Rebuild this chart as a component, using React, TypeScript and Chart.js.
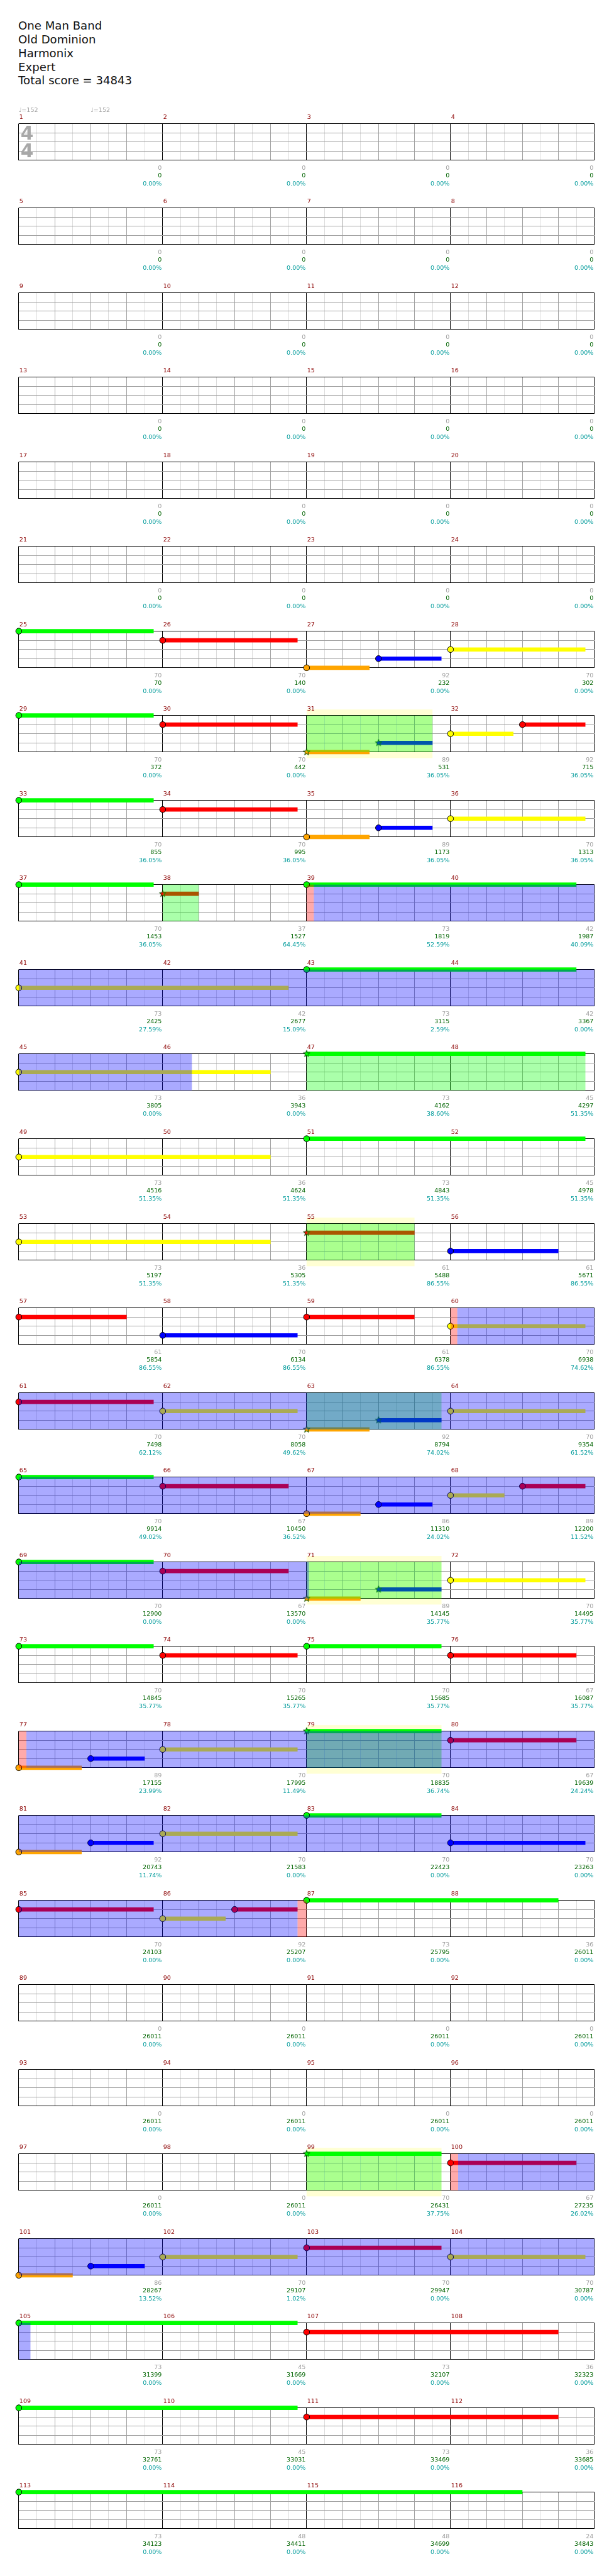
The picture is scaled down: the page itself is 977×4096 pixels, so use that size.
import React, { useEffect, useRef } from "react";
import { Chart, registerables } from "chart.js";

Chart.register(...registerables);

// ---------- scale of the whole drawing (reference 1024 wide -> 977) ----------
const S = 977 / 1024;
const FONT = '"DejaVu Sans", sans-serif';

// ---------- header ----------
const TITLE_LINES = ["One Man Band", "Old Dominion", "Harmonix", "Expert", "Total score = 34843"];

// ---------- structure ----------
const ROW_COUNT = 29;
const MEASURES_PER_ROW = 4;
const STEPS_PER_MEASURE = 16; // sixteenth notes
const LANE_COLORS = ["#00ff00", "#ff0000", "#ffff00", "#0000ff", "#ffa500"]; // green, red, yellow, blue, orange

// tempo marks: [measure, sixteenth, bpm]
const TEMPOS = [
  [1, 0, 152],
  [1, 8, 152],
];
const TIME_SIGNATURE = ["4", "4"];

// notes: [measure, sixteenth offset, lane, sustain length (sixteenths), star (1 = overdrive note)]
const NOTES = [
  [25, 0, 0, 15, 0], [26, 0, 1, 15, 0], [27, 0, 4, 7, 0], [27, 8, 3, 7, 0], [28, 0, 2, 15, 0],
  [29, 0, 0, 15, 0], [30, 0, 1, 15, 0], [31, 0, 4, 7, 1], [31, 8, 3, 6, 1], [32, 0, 2, 7, 0], [32, 8, 1, 7, 0],
  [33, 0, 0, 15, 0], [34, 0, 1, 15, 0], [35, 0, 4, 7, 0], [35, 8, 3, 6, 0], [36, 0, 2, 15, 0],
  [37, 0, 0, 15, 0], [38, 0, 1, 4, 1], [39, 0, 0, 30, 0],
  [41, 0, 2, 30, 0], [43, 0, 0, 30, 0],
  [45, 0, 2, 28, 0], [47, 0, 0, 31, 1],
  [49, 0, 2, 28, 0], [51, 0, 0, 31, 0],
  [53, 0, 2, 28, 0], [55, 0, 1, 12, 1], [56, 0, 3, 12, 0],
  [57, 0, 1, 12, 0], [58, 0, 3, 15, 0], [59, 0, 1, 12, 0], [60, 0, 2, 15, 0],
  [61, 0, 1, 15, 0], [62, 0, 2, 15, 0], [63, 0, 4, 7, 1], [63, 8, 3, 7, 1], [64, 0, 2, 15, 0],
  [65, 0, 0, 15, 0], [66, 0, 1, 14, 0], [67, 0, 4, 6, 0], [67, 8, 3, 6, 0], [68, 0, 2, 6, 0], [68, 8, 1, 7, 0],
  [69, 0, 0, 15, 0], [70, 0, 1, 14, 0], [71, 0, 4, 6, 1], [71, 8, 3, 7, 1], [72, 0, 2, 15, 0],
  [73, 0, 0, 15, 0], [74, 0, 1, 15, 0], [75, 0, 0, 15, 0], [76, 0, 1, 14, 0],
  [77, 0, 4, 7, 0], [77, 8, 3, 6, 0], [78, 0, 2, 15, 0], [79, 0, 0, 15, 1], [80, 0, 1, 14, 0],
  [81, 0, 4, 7, 0], [81, 8, 3, 7, 0], [82, 0, 2, 15, 0], [83, 0, 0, 15, 0], [84, 0, 3, 15, 0],
  [85, 0, 1, 15, 0], [86, 0, 2, 7, 0], [86, 8, 1, 7, 0], [87, 0, 0, 28, 0],
  [99, 0, 0, 15, 1], [100, 0, 1, 14, 0],
  [101, 0, 4, 6, 0], [101, 8, 3, 6, 0], [102, 0, 2, 15, 0], [103, 0, 1, 15, 0], [104, 0, 2, 15, 0],
  [105, 0, 0, 31, 0], [107, 0, 1, 28, 0],
  [109, 0, 0, 31, 0], [111, 0, 1, 28, 0],
  [113, 0, 0, 56, 0],
];

// overdrive phrases: [startMeasure, startSixteenth, endMeasure, endSixteenth, showYellowBox]
const OD_PHRASES = [
  [31, 0, 31, 14, 1],
  [38, 0, 38, 4, 0],
  [47, 0, 48, 15, 0],
  [55, 0, 55, 12, 1],
  [63, 0, 63, 15, 0],
  [71, 0, 71, 15, 1],
  [79, 0, 79, 15, 1],
  [99, 0, 99, 15, 1],
];
// overdrive activations (blue): [startMeasure, startSixteenth, endMeasure, endSixteenth]
const ACTIVATIONS = [
  [39, 0.8, 46, 3.25],
  [60, 0.75, 71, 0.25],
  [77, 0.85, 86, 15],
  [100, 0.85, 105, 1.3],
];
// squeeze windows (red)
const SQUEEZES = [
  [39, 0, 39, 0.8],
  [60, 0, 60, 0.75],
  [77, 0, 77, 0.85],
  [86, 15, 87, 0],
  [100, 0, 100, 0.85],
];

// per-measure numbers (measures 1..116)
const MEASURE_SCORES = [
  0, 0, 0, 0, 0, 0, 0, 0, 0, 0, 0, 0, 0, 0, 0, 0, 0, 0, 0, 0, 0, 0, 0, 0,
  70, 70, 92, 70,
  70, 70, 89, 92,
  70, 70, 89, 70,
  70, 37, 73, 42,
  73, 42, 73, 42,
  73, 36, 73, 45,
  73, 36, 73, 45,
  73, 36, 61, 61,
  61, 70, 61, 70,
  70, 70, 92, 70,
  70, 67, 86, 89,
  70, 67, 89, 70,
  70, 70, 70, 67,
  89, 70, 70, 67,
  92, 70, 70, 70,
  70, 92, 73, 36,
  0, 0, 0, 0,
  0, 0, 0, 0,
  0, 0, 70, 67,
  86, 70, 70, 70,
  73, 45, 73, 36,
  73, 45, 73, 36,
  73, 48, 48, 24,
];
const CUMULATIVE_SCORES = [
  0, 0, 0, 0, 0, 0, 0, 0, 0, 0, 0, 0, 0, 0, 0, 0, 0, 0, 0, 0, 0, 0, 0, 0,
  70, 140, 232, 302,
  372, 442, 531, 715,
  855, 995, 1173, 1313,
  1453, 1527, 1819, 1987,
  2425, 2677, 3115, 3367,
  3805, 3943, 4162, 4297,
  4516, 4624, 4843, 4978,
  5197, 5305, 5488, 5671,
  5854, 6134, 6378, 6938,
  7498, 8058, 8794, 9354,
  9914, 10450, 11310, 12200,
  12900, 13570, 14145, 14495,
  14845, 15265, 15685, 16087,
  17155, 17995, 18835, 19639,
  20743, 21583, 22423, 23263,
  24103, 25207, 25795, 26011,
  26011, 26011, 26011, 26011,
  26011, 26011, 26011, 26011,
  26011, 26011, 26431, 27235,
  28267, 29107, 29947, 30787,
  31399, 31669, 32107, 32323,
  32761, 33031, 33469, 33685,
  34123, 34411, 34699, 34843,
];
const METER_PERCENT = [
  0, 0, 0, 0, 0, 0, 0, 0, 0, 0, 0, 0, 0, 0, 0, 0, 0, 0, 0, 0, 0, 0, 0, 0,
  0, 0, 0, 0,
  0, 0, 36.05, 36.05,
  36.05, 36.05, 36.05, 36.05,
  36.05, 64.45, 52.59, 40.09,
  27.59, 15.09, 2.59, 0,
  0, 0, 38.6, 51.35,
  51.35, 51.35, 51.35, 51.35,
  51.35, 51.35, 86.55, 86.55,
  86.55, 86.55, 86.55, 74.62,
  62.12, 49.62, 74.02, 61.52,
  49.02, 36.52, 24.02, 11.52,
  0, 0, 35.77, 35.77,
  35.77, 35.77, 35.77, 35.77,
  23.99, 11.49, 36.74, 24.24,
  11.74, 0, 0, 0,
  0, 0, 0, 0,
  0, 0, 0, 0,
  0, 0, 0, 0,
  0, 0, 37.75, 26.02,
  13.52, 1.02, 0, 0,
  0, 0, 0, 0,
  0, 0, 0, 0,
  0, 0, 0, 0,
];

// ---------- layout (reference pixels, scaled by S) ----------
const FIRST_STAFF_TOP = 205.7;
const ROW_PITCH = 141;
const STAFF_H = 61;
const STAFF_LEFT = 31.3;
const STAFF_RIGHT = 991.3;
const ABOVE = 30;

const pos = (m: number, s: number) => (m - 1) * STEPS_PER_MEASURE + s;

const starCache: Record<string, HTMLCanvasElement> = {};
function starImage(color: string) {
  if (starCache[color]) return starCache[color];
  const size = Math.ceil(14 * S);
  const c = document.createElement("canvas");
  c.width = size;
  c.height = size;
  const g = c.getContext("2d")!;
  const cx = size / 2, cy = size / 2, R = 5.8 * S, r = 2.4 * S;
  g.beginPath();
  for (let i = 0; i < 10; i++) {
    const a = -Math.PI / 2 + (i * Math.PI) / 5;
    const rr = i % 2 === 0 ? R : r;
    g.lineTo(cx + rr * Math.cos(a), cy + rr * Math.sin(a));
  }
  g.closePath();
  g.fillStyle = color;
  g.fill();
  g.strokeStyle = "#004d00";
  g.lineWidth = 1;
  g.stroke();
  starCache[color] = c;
  return c;
}

function spanPx(chart: any, a: number, b: number) {
  const xs = chart.scales.x;
  const lo = Math.max(a, xs.min);
  const hi = Math.min(b, xs.max);
  if (hi <= lo) return null;
  return [xs.getPixelForValue(lo), xs.getPixelForValue(hi)];
}

const rowPlugin = {
  id: "rowDecor",
  beforeDraw(chart: any) {
    const ctx = chart.ctx;
    const ys = chart.scales.y;
    const ext = 10 / 15.25;
    ctx.save();
    ctx.fillStyle = "rgba(255,255,0,0.17)";
    OD_PHRASES.forEach((p) => {
      if (!p[4]) return;
      const sp = spanPx(chart, pos(p[0], p[1]), pos(p[2], p[3]));
      if (!sp) return;
      const t = ys.getPixelForValue(-ext);
      const b = ys.getPixelForValue(4 + ext);
      ctx.fillRect(sp[0], t, sp[1] - sp[0], b - t);
    });
    ctx.restore();
  },
  afterDatasetsDraw(chart: any) {
    const ctx = chart.ctx;
    const { top, bottom } = chart.chartArea;
    ctx.save();
    const paint = (list: number[][], color: string) => {
      ctx.fillStyle = color;
      list.forEach((p) => {
        const sp = spanPx(chart, pos(p[0], p[1]), pos(p[2], p[3]));
        if (sp) ctx.fillRect(sp[0], top, sp[1] - sp[0], bottom - top);
      });
    };
    paint(OD_PHRASES, "rgba(0,255,0,0.333)");
    paint(ACTIVATIONS, "rgba(0,0,255,0.333)");
    paint(SQUEEZES, "rgba(255,0,0,0.333)");
    ctx.restore();
  },
  afterDraw(chart: any, _args: any, opts: any) {
    const row = opts.row as number;
    const ctx = chart.ctx;
    const xs = chart.scales.x;
    const { top, bottom, left } = chart.chartArea;
    ctx.save();
    ctx.font = `${10 * S}px ${FONT}`;
    ctx.textBaseline = "alphabetic";
    for (let k = 0; k < MEASURES_PER_ROW; k++) {
      const m = row * MEASURES_PER_ROW + k + 1;
      const xStart = xs.getPixelForValue(pos(m, 0));
      const xEnd = xs.getPixelForValue(pos(m + 1, 0));
      ctx.textAlign = "left";
      ctx.fillStyle = "#8b0000";
      ctx.fillText(String(m), xStart + 1 * S, top - 8 * S);
      ctx.textAlign = "right";
      const xr = xEnd - 1.5 * S;
      ctx.fillStyle = "#a0a0a0";
      ctx.fillText(String(MEASURE_SCORES[m - 1]), xr, bottom + 16 * S);
      ctx.fillStyle = "#006400";
      ctx.fillText(String(CUMULATIVE_SCORES[m - 1]), xr, bottom + 28.7 * S);
      ctx.fillStyle = "#009b9b";
      ctx.fillText(METER_PERCENT[m - 1].toFixed(2) + "%", xr, bottom + 41.7 * S);
    }
    if (row === 0) {
      ctx.textAlign = "left";
      ctx.fillStyle = "#a0a0a0";
      TEMPOS.forEach((t) => {
        ctx.fillText("\u2669=" + t[2], xs.getPixelForValue(pos(t[0], t[1])), top - 20 * S);
      });
      ctx.font = `bold ${31 * S}px ${FONT}`;
      ctx.fillStyle = "#a8a8a8";
      ctx.fillText(TIME_SIGNATURE[0], left + 3 * S, top + 26.5 * S);
      ctx.fillText(TIME_SIGNATURE[1], left + 3 * S, top + 56 * S);
    }
    ctx.restore();
  },
};

function StaffRow({ row }: { row: number }) {
  const ref = useRef<HTMLCanvasElement>(null);
  const canvasTop = Math.round((FIRST_STAFF_TOP + row * ROW_PITCH - ABOVE) * S);
  const canvasH = Math.round(ROW_PITCH * S);
  useEffect(() => {
    const x0 = row * MEASURES_PER_ROW * STEPS_PER_MEASURE;
    const x1 = x0 + MEASURES_PER_ROW * STEPS_PER_MEASURE;
    const rowNotes = NOTES.filter((n) => {
      const p = pos(n[0], n[1]);
      return p >= x0 && p < x1;
    });
    const datasets = rowNotes.map((n) => {
      const start = pos(n[0], n[1]);
      const color = LANE_COLORS[n[2]];
      return {
        type: "line" as const,
        data: [
          { x: start, y: n[2] },
          { x: start + n[3], y: n[2] },
        ],
        borderColor: color,
        borderWidth: 7 * S,
        borderCapStyle: "butt" as const,
        pointRadius: [5 * S, 0],
        pointHoverRadius: [5 * S, 0],
        pointStyle: n[4] ? (starImage(color) as any) : "circle",
        pointBackgroundColor: color,
        pointBorderColor: "#000",
        pointBorderWidth: 1,
        clip: false as any,
        order: 1,
      };
    });
    const topPad = ABOVE * S;
    const chart = new Chart(ref.current!, {
      type: "line",
      data: { datasets: datasets as any },
      options: {
        responsive: false,
        animation: false,
        devicePixelRatio: 1,
        events: [],
        layout: {
          padding: {
            top: topPad,
            bottom: canvasH - topPad - STAFF_H * S,
            left: STAFF_LEFT * S,
            right: 977 - STAFF_RIGHT * S,
          },
        },
        plugins: {
          legend: { display: false },
          tooltip: { enabled: false },
          title: { display: false },
          rowDecor: { row },
        } as any,
        scales: {
          x: {
            type: "linear",
            min: x0,
            max: x1,
            afterBuildTicks: (scale: any) => {
              const t = [];
              for (let v = x0; v <= x1; v += 2) t.push({ value: v });
              scale.ticks = t;
            },
            ticks: { display: false },
            border: { display: false },
            grid: {
              drawTicks: false,
              lineWidth: 1,
              color: (c: any) => {
                if (!c.tick) return "#000";
                const v = c.tick.value - x0;
                if (v % 16 === 0) return "#000000";
                if (v % 4 === 0) return "#a0a0a0";
                return "#dcdcdc";
              },
            },
          },
          y: {
            type: "linear",
            min: 0,
            max: 4,
            reverse: true,
            afterBuildTicks: (scale: any) => {
              scale.ticks = [0, 1, 2, 3, 4].map((v) => ({ value: v }));
            },
            ticks: { display: false },
            border: { display: false },
            grid: {
              drawTicks: false,
              lineWidth: 1,
              color: (c: any) => {
                if (!c.tick) return "#000";
                const v = c.tick.value;
                return v === 0 || v === 4 ? "#000000" : "#a0a0a0";
              },
            },
          },
        },
      },
      plugins: [rowPlugin as any],
    });
    return () => chart.destroy();
  }, [row]);
  return (
    <canvas
      ref={ref}
      width={977}
      height={canvasH}
      style={{ position: "absolute", left: 0, top: canvasTop, width: 977, height: canvasH, display: "block" }}
    />
  );
}

export default function App() {
  const f = 19 * S;
  const rows = [];
  for (let r = 0; r < ROW_COUNT; r++) rows.push(<StaffRow key={r} row={r} />);
  return (
    <div style={{ position: "absolute", left: 0, top: 0, width: 977, height: 4096, background: "#fff", overflow: "hidden" }}>
      {TITLE_LINES.map((t, i) => (
        <div
          key={i}
          style={{
            position: "absolute",
            left: 30.5 * S,
            top: (49.3 + 23 * i) * S - 0.846 * f,
            font: `${f}px ${FONT}`,
            lineHeight: `${f}px`,
            color: "#111",
            whiteSpace: "nowrap",
          }}
        >
          {t}
        </div>
      ))}
      {rows}
    </div>
  );
}
